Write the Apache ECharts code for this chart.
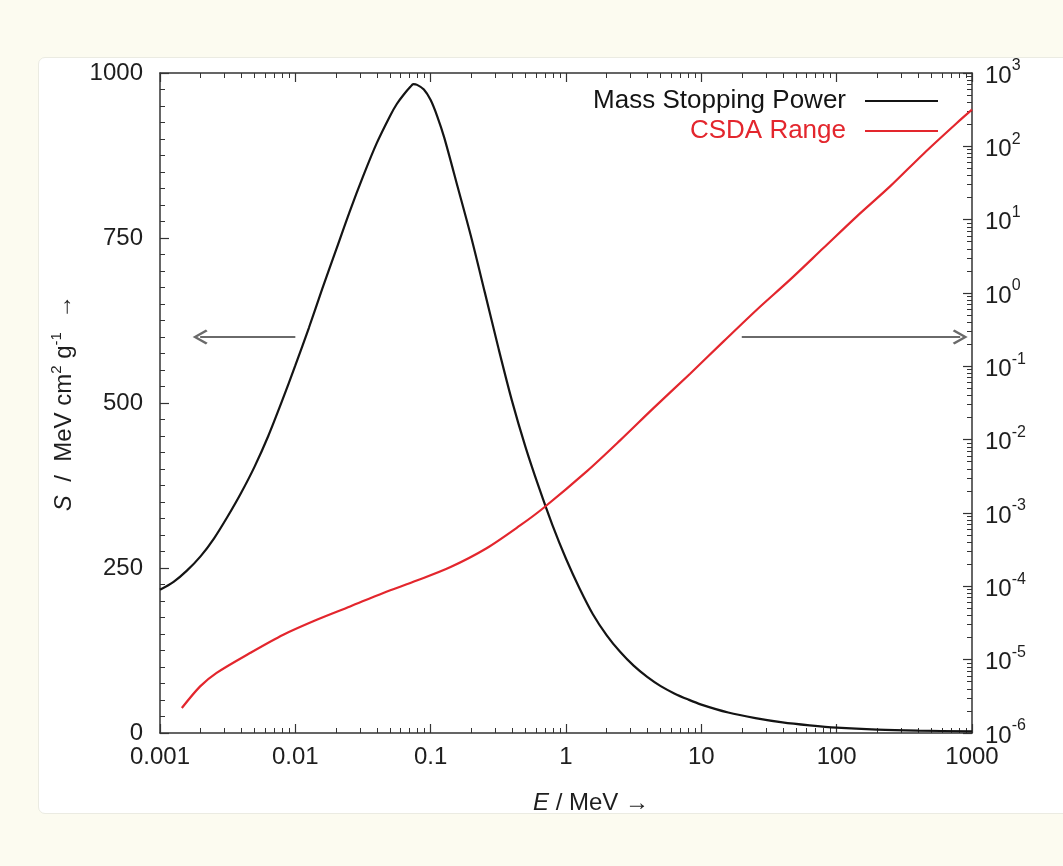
<!DOCTYPE html>
<html>
<head>
<meta charset="utf-8">
<script src="https://cdn.jsdelivr.net/npm/echarts@6/dist/echarts.min.js"></script>
<style>
  html, body { margin: 0; padding: 0; background: #fcfbf0; }
  #card { position: absolute; left: 38px; top: 57px; width: 1040px; height: 755px;
          background: #ffffff; border: 1px solid #ebebe2; border-radius: 7px; }
  #chart { position: absolute; left: 0; top: 0; width: 1063px; height: 866px; }
</style>
</head>
<body>
<div id="card"></div>
<div id="chart"></div>
<script>
// ---------- data ----------
const seriesNames = ['Mass Stopping Power', 'CSDA Range'];

// Mass stopping power S (MeV cm^2 g^-1) vs energy E (MeV)
const stoppingEnergy = [0.001, 0.00126, 0.00158, 0.002, 0.00251, 0.00316, 0.00398, 0.00501, 0.00631, 0.00794,
  0.01, 0.0126, 0.0158, 0.02, 0.0251, 0.0316, 0.0398, 0.0501, 0.0562, 0.0631, 0.0708, 0.0745, 0.0794, 0.0891,
  0.1, 0.112, 0.126, 0.158, 0.2, 0.251, 0.316, 0.398, 0.501, 0.631, 0.794, 1.0, 1.26, 1.58, 2.0, 2.51, 3.16,
  3.98, 5.01, 6.31, 7.94, 10, 15.8, 25.1, 39.8, 63.1, 100, 200, 400, 1000];
const stoppingPower = [217, 229, 246, 268, 295, 328, 364, 404, 450, 502,
  557, 614, 673, 732, 789, 843, 893, 935, 953, 967, 979, 983, 982, 975,
  959, 934, 902, 828, 750, 668, 584, 504, 434, 372, 315, 264, 219, 180, 148, 123, 102,
  85, 71, 60, 51, 43, 31, 22.5, 16, 11.5, 8, 5, 3.5, 2.5];

// CSDA range (right log axis) vs energy E (MeV)
const rangeEnergy = [0.00145, 0.00198, 0.00262, 0.00462, 0.00815, 0.0144, 0.0254, 0.0447, 0.0789, 0.139,
  0.259, 0.458, 0.681, 1.43, 2.51, 4.43, 8.26, 14.6, 25.7, 45.3, 79.8, 141, 248, 439, 773, 1000];
const csdaRange = [2.19e-6, 4.32e-6, 6.61e-6, 1.23e-5, 2.19e-5, 3.50e-5, 5.32e-5, 8.13e-5, 1.20e-4, 1.82e-4,
  3.31e-4, 6.76e-4, 1.17e-3, 3.72e-3, 9.77e-3, 2.69e-2, 7.94e-2, 0.219, 0.592, 1.52, 4.10, 11.1, 28.4, 79.4, 208, 316];

// axes ticks / labels
const xTickValues = [0.001, 0.01, 0.1, 1, 10, 100, 1000];
const xTickLabels = ['0.001', '0.01', '0.1', '1', '10', '100', '1000'];
const yRightTickValues = [1e-6, 1e-5, 1e-4, 1e-3, 1e-2, 1e-1, 1e0, 1e1, 1e2, 1e3];
const yRightExponents = ['-6', '-5', '-4', '-3', '-2', '-1', '0', '1', '2', '3'];

// annotation arrows (data coords: E, S)
const leftArrow = [[0.01, 600], [0.00198, 600]];
const rightArrow = [[19.9, 600], [818, 600]];

// ---------- helpers ----------
function minorLogTicks(majors) {
  const out = [];
  for (let i = 0; i < majors.length - 1; i++) {
    for (let k = 2; k <= 9; k++) out.push(majors[i] * k);
  }
  return out;
}
const xMinor = minorLogTicks(xTickValues);
const yRightMinor = minorLogTicks(yRightTickValues);

const FONT = 'Liberation Sans';
const AX = '#333';
const TXT = '#1e1e1e';
const BLACK = '#141414';
const RED = '#e3262d';
const FS = 24;

const chevron = 'path://M6,0 L12,9 L10.6,10.2 L6,3.2 L1.4,10.2 L0,9 Z';

function baseLog(min, max) {
  return { type: 'log', logBase: 10, min: min, max: max, splitLine: { show: false } };
}

const chart = echarts.init(document.getElementById('chart'), null, { renderer: 'canvas' });
const option = {
  backgroundColor: 'transparent',
  animation: false,
  textStyle: { fontFamily: FONT },
  grid: { left: 160, top: 73, width: 812, height: 660, containLabel: false },
  legend: {
    orient: 'vertical', right: 125, top: 88, align: 'right',
    icon: 'rect', itemWidth: 73, itemHeight: 2, itemGap: 4, padding: 0,
    textStyle: { fontFamily: FONT, fontSize: 26, padding: [0, 14, 0, 0] },
    data: [
      { name: seriesNames[0], textStyle: { color: BLACK } },
      { name: seriesNames[1], textStyle: { color: RED } }
    ]
  },
  xAxis: [
    Object.assign(baseLog(0.001, 1000), {
      position: 'bottom',
      axisLine: { show: true, onZero: false, lineStyle: { color: AX, width: 1.5 } },
      axisTick: { show: true, inside: true, length: 9, customValues: xTickValues, lineStyle: { color: AX, width: 1.2 } },
      axisLabel: {
        show: true, customValues: xTickValues, margin: 12, fontSize: FS, color: TXT, fontFamily: FONT,
        formatter: function (v) { const i = xTickValues.findIndex(t => Math.abs(t - v) / t < 1e-6); return i >= 0 ? xTickLabels[i] : ''; }
      },
      name: '{i|E}{n| / MeV →}', nameLocation: 'middle', nameGap: 58,
      nameTextStyle: {
        fontFamily: FONT, fontSize: FS, color: TXT, padding: [0, 0, 0, 50],
        rich: { i: { fontStyle: 'italic', fontSize: FS, fontFamily: FONT, color: TXT },
                n: { fontSize: FS, fontFamily: FONT, color: TXT } }
      }
    }),
    Object.assign(baseLog(0.001, 1000), {
      position: 'bottom',
      axisLine: { show: false, onZero: false },
      axisTick: { show: true, inside: true, length: 5, customValues: xMinor, lineStyle: { color: AX, width: 1 } },
      axisLabel: { show: false }
    }),
    Object.assign(baseLog(0.001, 1000), {
      position: 'top',
      axisLine: { show: true, onZero: false, lineStyle: { color: AX, width: 1.5 } },
      axisTick: { show: true, inside: true, length: 9, customValues: xTickValues, lineStyle: { color: AX, width: 1.2 } },
      axisLabel: { show: false }
    }),
    Object.assign(baseLog(0.001, 1000), {
      position: 'top',
      axisLine: { show: false, onZero: false },
      axisTick: { show: true, inside: true, length: 5, customValues: xMinor, lineStyle: { color: AX, width: 1 } },
      axisLabel: { show: false }
    })
  ],
  yAxis: [
    {
      type: 'value', min: 0, max: 1000, interval: 250, position: 'left',
      splitLine: { show: false },
      axisLine: { show: true, onZero: false, lineStyle: { color: AX, width: 1.5 } },
      axisTick: { show: true, inside: true, length: 9, lineStyle: { color: AX, width: 1.2 } },
      minorTick: { show: true, splitNumber: 10, length: 5, lineStyle: { color: AX, width: 1 } },
      axisLabel: { fontSize: FS, color: TXT, margin: 17, fontFamily: FONT, formatter: function (v) { return String(v); } },
      name: '{i|S}{n|  /  MeV cm}{s|2}{n| g}{s|-1}{n|  →}',
      nameLocation: 'middle', nameRotate: 90, nameGap: 84,
      nameTextStyle: {
        fontFamily: FONT, color: TXT,
        rich: {
          i: { fontStyle: 'italic', fontSize: FS, fontFamily: FONT, color: TXT, verticalAlign: 'bottom', lineHeight: 27 },
          n: { fontSize: FS, fontFamily: FONT, color: TXT, verticalAlign: 'bottom', lineHeight: 27 },
          s: { fontSize: 15, fontFamily: FONT, color: TXT, verticalAlign: 'top', lineHeight: 15 }
        }
      }
    },
    Object.assign(baseLog(1e-6, 1e3), {
      position: 'right',
      axisLine: { show: true, onZero: false, lineStyle: { color: AX, width: 1.5 } },
      axisTick: { show: true, inside: true, length: 9, customValues: yRightTickValues, lineStyle: { color: AX, width: 1.2 } },
      axisLabel: {
        show: true, customValues: yRightTickValues, margin: 13, fontFamily: FONT, color: TXT,
        formatter: function (v) {
          const i = yRightTickValues.findIndex(t => Math.abs(t - v) / t < 1e-6);
          return i >= 0 ? '{b|10}{s|' + yRightExponents[i] + '}' : '';
        },
        rich: {
          b: { fontSize: FS, fontFamily: FONT, color: TXT, verticalAlign: 'bottom', lineHeight: 30 },
          s: { fontSize: 16, fontFamily: FONT, color: TXT, verticalAlign: 'top', lineHeight: 16 }
        }
      }
    }),
    Object.assign(baseLog(1e-6, 1e3), {
      position: 'right',
      axisLine: { show: false, onZero: false },
      axisTick: { show: true, inside: true, length: 5, customValues: yRightMinor, lineStyle: { color: AX, width: 1 } },
      axisLabel: { show: false }
    })
  ],
  series: [
    {
      name: seriesNames[0], type: 'line', xAxisIndex: 0, yAxisIndex: 0,
      data: stoppingEnergy.map((e, i) => [e, stoppingPower[i]]),
      showSymbol: false, symbol: 'none', smooth: 0.3,
      lineStyle: { color: BLACK, width: 2.2 }, itemStyle: { color: BLACK },
      markLine: {
        silent: true, animation: false,
        symbol: ['none', chevron], symbolSize: [15, 15],
        label: { show: false },
        lineStyle: { color: '#6a6a6a', width: 1.8, type: 'solid' },
        data: [
          [{ coord: leftArrow[0] }, { coord: leftArrow[1] }],
          [{ coord: rightArrow[0] }, { coord: rightArrow[1] }]
        ]
      }
    },
    {
      name: seriesNames[1], type: 'line', xAxisIndex: 0, yAxisIndex: 1,
      data: rangeEnergy.map((e, i) => [e, csdaRange[i]]),
      showSymbol: false, symbol: 'none', smooth: 0.3,
      lineStyle: { color: RED, width: 2.2 }, itemStyle: { color: RED }
    }
  ]
};
chart.setOption(option);
</script>
</body>
</html>
